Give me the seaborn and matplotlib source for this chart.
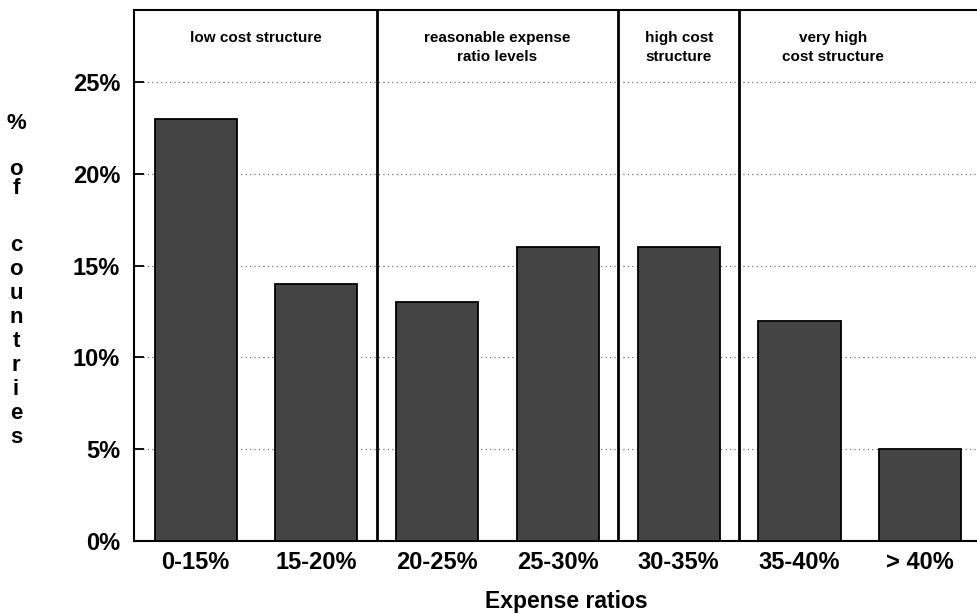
import matplotlib
matplotlib.use('Agg')
import matplotlib.pyplot as plt
import seaborn as sns
import pandas as pd

# ---- data ----
categories = ['0-15%', '15-20%', '20-25%', '25-30%', '30-35%', '35-40%', '> 40%']
values = [23, 14, 13, 16, 16, 12, 5]
group_labels = ['low cost structure', 'reasonable expense\nratio levels',
                'high cost\nstructure', 'very high\ncost structure']
group_centers = [0.5, 2.5, 4.0, 5.28]
separators = [1.5, 3.5, 4.5]
yticks = [0, 5, 10, 15, 20, 25]
ytick_labels = ['0%', '5%', '10%', '15%', '20%', '25%']
x_title = 'Expense ratios'
y_title = '% of countries'

sns.set_theme(style='white')
plt.rcParams['font.family'] = ['Liberation Sans', 'DejaVu Sans']

W, H = 977, 615
fig = plt.figure(figsize=(W / 100, H / 100), dpi=100)
ax = fig.add_axes([134 / W, 1 - 541 / H, 1 - 134 / W, (541 - 10) / H])

df = pd.DataFrame({'range': categories, 'share': values})
sns.barplot(data=df, x='range', y='share', order=categories, color='#444444',
            saturation=1, width=0.68, edgecolor='black', linewidth=1.3,
            ax=ax, zorder=3)

ax.set_xlim(-0.51, 6.47)
ax.set_ylim(0, 28.92)
ax.set_yticks(yticks)
ax.set_yticklabels(ytick_labels)
ax.yaxis.grid(True, linestyle=(0, (1, 3)), color='#555555', linewidth=0.8)
ax.xaxis.grid(False)
ax.set_axisbelow(True)

for s in separators:
    ax.axvline(s, color='black', linewidth=2, zorder=4)

for xc, lab in zip(group_centers, group_labels):
    ax.text(xc, 27.8, lab, ha='center', va='top', fontsize=11,
            fontweight='bold', linespacing=1.45, color='black')

for side in ['left', 'bottom', 'top']:
    ax.spines[side].set_visible(True)
    ax.spines[side].set_color('black')
    ax.spines[side].set_linewidth(1.5)
ax.spines['right'].set_visible(False)

ax.tick_params(axis='y', direction='in', length=7, width=1.3, color='black',
               left=True, pad=10, labelsize=17)
ax.tick_params(axis='x', bottom=False, pad=1.5, labelsize=17)
for lbl in ax.get_xticklabels() + ax.get_yticklabels():
    lbl.set_fontweight('bold')
    lbl.set_color('black')

ax.set_xlabel('')
ax.set_ylabel('')
fig.text(566 / W, 1 - 608 / H, x_title, ha='center', va='baseline',
         fontsize=16.5, fontweight='bold', color='black')

# stacked vertical y-axis title (one character per line)
letters = [c for c in y_title if c != ' ']
baselines = [129, 175, 194, 251, 275, 299, 323, 347, 371, 395, 419, 443]
for ch, yp in zip(letters, baselines):
    fig.text(16 / W, 1 - yp / H, ch, ha='center', va='baseline', fontsize=16,
             fontweight='bold', color='black')

fig.savefig('out.png', dpi=100)
